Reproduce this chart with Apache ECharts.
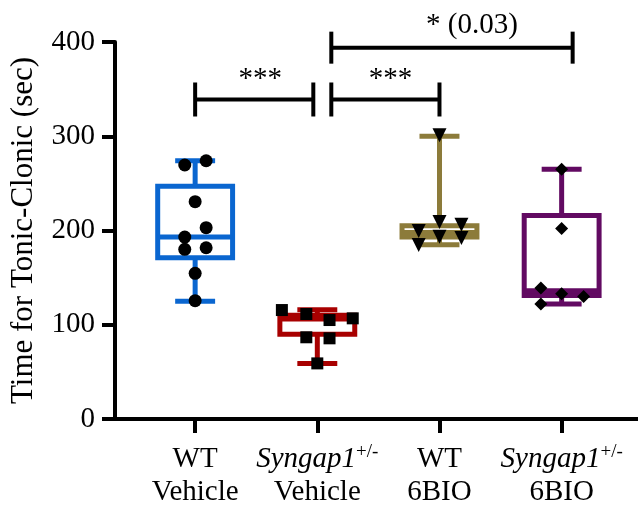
<!DOCTYPE html>
<html><head><meta charset="utf-8">
<script src="https://cdn.jsdelivr.net/npm/echarts@6/dist/echarts.min.js"></script>
<style>html,body{margin:0;padding:0;background:#fff}#c{width:638px;height:509px}</style>
</head><body><div id="c"></div>
<script>
// ---------- data ----------
const categoryTop = ['WT', 'Syngap1', 'WT', 'Syngap1'];
const categorySup = ['', '+/-', '', '+/-'];
const categoryBottom = ['Vehicle', 'Vehicle', '6BIO', '6BIO'];
const yTickValues = [0, 100, 200, 300, 400];

// box statistics per group: [min, q1, median, q3, max]
const boxWTVehicle = [125, 171, 193, 247, 274];
const boxSynVehicle = [59, 90, 106, 110, 116];
const boxWT6BIO = [185, 193, 198, 205, 300];
const boxSyn6BIO = [122, 131, 136, 216, 265];

// individual animals
const ptsWTVehicle = [274, 269.5, 230.6, 203, 193, 181.7, 180, 154.6, 125.5];
const jitWTVehicle = [0.09, -0.085, 0, 0.09, -0.085, 0.09, -0.085, 0, 0];
const ptsSynVehicle = [115.6, 111.4, 106.8, 105, 86.7, 85.6, 59];
const jitSynVehicle = [-0.29, -0.09, 0.29, 0.1, -0.09, 0.1, 0];
const ptsWT6BIO = [301, 209, 206, 199.5, 193.5, 192, 184.6];
const jitWT6BIO = [0, 0, 0.18, -0.17, 0, 0.18, -0.17];
const ptsSyn6BIO = [265, 202, 139, 133, 130, 122];
const jitSyn6BIO = [0, 0, -0.17, 0, 0.18, -0.17];

// significance comparisons (group positions 1..4)
const compFrom = [1, 2, 2];
const compTo = [2, 3, 4];
const compText = ['***', '***', '* (0.03)'];

// ---------- styles / layout ----------
const FONT = 'Liberation Serif';
const FS = 29;
const groupColors = ['#0a66d0', '#a80000', '#8c7b3a', '#620a62'];
const groupSymbols = ['circle', 'rect', 'triangle', 'diamond'];
const symbolRot = [0, 0, 180, 0];
const symbolSizes = [13, 12, 14, 13];
const bracketLevels = [339, 339, 394];           // y level (axis units)
const bracketEndOffsets = [[0, -4], [14, 0], [14, 11]]; // px
const bracketTicks = [[17, 17], [17, 17], [16, 16]];    // px up/down
const bracketTextDx = [6, 5, 20];
const bracketTextDy = [-6, -6, -8];

const boxes = [boxWTVehicle, boxSynVehicle, boxWT6BIO, boxSyn6BIO];
const boxData = boxes.map((b, i) => [i + 1].concat(b));
const pts = [ptsWTVehicle, ptsSynVehicle, ptsWT6BIO, ptsSyn6BIO];
const jits = [jitWTVehicle, jitSynVehicle, jitWT6BIO, jitSyn6BIO];

const chart = echarts.init(document.getElementById('c'), null, {renderer: 'canvas'});

function boxRender(params, api) {
  const x = api.value(0);
  const mn = api.value(1), q1 = api.value(2), md = api.value(3), q3 = api.value(4), mx = api.value(5);
  const col = groupColors[params.dataIndex];
  const bw = api.size([0.613, 0])[0];
  const cw = api.size([0.327, 0])[0];
  const pMin = api.coord([x, mn]), pQ1 = api.coord([x, q1]), pMd = api.coord([x, md]),
        pQ3 = api.coord([x, q3]), pMax = api.coord([x, mx]);
  const cx = pMin[0];
  const st = {stroke: col, lineWidth: 5, fill: null, lineCap: 'butt'};
  return {
    type: 'group',
    children: [
      {type: 'line', shape: {x1: cx, y1: pMax[1], x2: cx, y2: pQ3[1]}, style: st},
      {type: 'line', shape: {x1: cx, y1: pQ1[1], x2: cx, y2: pMin[1]}, style: st},
      {type: 'line', shape: {x1: cx - cw / 2, y1: pMax[1], x2: cx + cw / 2, y2: pMax[1]}, style: st},
      {type: 'line', shape: {x1: cx - cw / 2, y1: pMin[1], x2: cx + cw / 2, y2: pMin[1]}, style: st},
      {type: 'rect', shape: {x: cx - bw / 2, y: pQ3[1], width: bw, height: pQ1[1] - pQ3[1]},
        style: {stroke: col, lineWidth: 5, fill: null}},
      {type: 'line', shape: {x1: cx - bw / 2, y1: pMd[1], x2: cx + bw / 2, y2: pMd[1]}, style: st}
    ]
  };
}

function bracketRender(params, api) {
  const i = params.dataIndex;
  const a = api.coord([api.value(0), api.value(2)]);
  const b = api.coord([api.value(1), api.value(2)]);
  const x1 = a[0] + bracketEndOffsets[i][0], x2 = b[0] + bracketEndOffsets[i][1], y = a[1];
  const up = bracketTicks[i][0], dn = bracketTicks[i][1];
  const st = {stroke: '#000', lineWidth: 4, fill: null};
  return {
    type: 'group',
    children: [
      {type: 'line', shape: {x1: x1, y1: y, x2: x2, y2: y}, style: st},
      {type: 'line', shape: {x1: x1, y1: y - up, x2: x1, y2: y + dn}, style: st},
      {type: 'line', shape: {x1: x2, y1: y - up, x2: x2, y2: y + dn}, style: st},
      {type: 'text', style: {text: compText[i], x: (x1 + x2) / 2 + bracketTextDx[i], y: y + bracketTextDy[i],
        align: 'center', verticalAlign: 'bottom', fontSize: FS, fontFamily: FONT, fill: '#000'}}
    ]
  };
}

const series = [
  {type: 'custom', renderItem: boxRender, data: boxData, z: 2, clip: false,
   encode: {x: 0, y: [1, 2, 3, 4, 5]}, animation: false},
  {type: 'custom', renderItem: bracketRender, z: 2, clip: false, animation: false,
   data: compFrom.map((f, i) => [f, compTo[i], bracketLevels[i]]), encode: {x: [0, 1], y: 2}}
];
pts.forEach((arr, g) => {
  series.push({
    type: 'scatter', z: 5, animation: false,
    symbol: groupSymbols[g], symbolSize: symbolSizes[g], symbolRotate: symbolRot[g],
    itemStyle: {color: '#000', opacity: 1},
    data: arr.map((v, k) => [g + 1 + jits[g][k], v])
  });
});

chart.setOption({
  animation: false,
  backgroundColor: '#fff',
  grid: {left: 114, right: 0, top: 42, bottom: 90, containLabel: false},
  xAxis: {
    type: 'value', min: 0.344, max: 4.625,
    splitLine: {show: false},
    axisLine: {show: true, onZero: false, lineStyle: {color: '#000', width: 4}},
    axisTick: {show: true, customValues: [1, 2, 3, 4], length: 14, lineStyle: {color: '#000', width: 4}},
    axisLabel: {
      show: true, customValues: [1, 2, 3, 4], margin: 24, color: '#000',
      formatter: function (v) {
        const i = Math.round(v) - 1;
        const top = categorySup[i] ? '{it|' + categoryTop[i] + '}{sup|' + categorySup[i] + '}' : '{n|' + categoryTop[i] + '}';
        return top + '\n{n|' + categoryBottom[i] + '}';
      },
      rich: {
        n: {fontSize: FS, fontFamily: FONT, color: '#000', lineHeight: 33},
        it: {fontSize: FS, fontFamily: FONT, fontStyle: 'italic', color: '#000', lineHeight: 33},
        sup: {fontSize: 19, fontFamily: FONT, color: '#000', verticalAlign: 'top', lineHeight: 20, padding: [0, 0, 12, 0]}
      }
    }
  },
  yAxis: {
    type: 'value', min: 0, max: 400, interval: 100,
    name: 'Time for Tonic-Clonic (sec)', nameLocation: 'middle', nameGap: 76,
    nameTextStyle: {fontSize: 31, fontFamily: FONT, color: '#000'},
    splitLine: {show: false},
    axisLine: {show: true, lineStyle: {color: '#000', width: 4}},
    axisTick: {show: true, length: 13, lineStyle: {color: '#000', width: 4}},
    axisLabel: {fontSize: FS, fontFamily: FONT, color: '#000', margin: 20,
      formatter: v => (yTickValues.indexOf(v) >= 0 ? String(v) : '')}
  },
  series: series
});
</script></body></html>
